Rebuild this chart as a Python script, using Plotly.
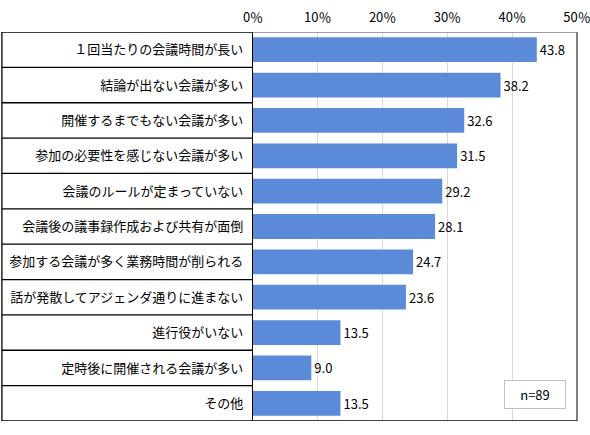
import plotly.graph_objects as go

# survey answers (%), top to bottom
categories = [
    "１回当たりの会議時間が長い",
    "結論が出ない会議が多い",
    "開催するまでもない会議が多い",
    "参加の必要性を感じない会議が多い",
    "会議のルールが定まっていない",
    "会議後の議事録作成および共有が面倒",
    "参加する会議が多く業務時間が削られる",
    "話が発散してアジェンダ通りに進まない",
    "進行役がいない",
    "定時後に開催される会議が多い",
    "その他",
]
values = [43.8, 38.2, 32.6, 31.5, 29.2, 28.1, 24.7, 23.6, 13.5, 9.0, 13.5]
x_ticks = [0, 10, 20, 30, 40, 50]
note = "n=89"

FONT = "Noto Sans CJK JP"
BAR_COLOR = "#5B8BD8"

fig = go.Figure()

fig.add_trace(go.Bar(
    y=categories,
    x=values,
    orientation="h",
    marker=dict(color=BAR_COLOR, line=dict(width=0)),
    width=0.7,
    text=[f"{v:.1f}" for v in values],
    textposition="outside",
    textfont=dict(family=FONT, size=13, color="#000000"),
    cliponaxis=False,
    hoverinfo="none",
))

# boxes around the category labels on the left
shapes = []
label_left = -0.775
n = len(categories)
for i in range(n + 1):
    shapes.append(dict(
        type="line", xref="paper", yref="y",
        x0=label_left, x1=0, y0=i - 0.5, y1=i - 0.5,
        line=dict(color="#000000", width=1.3),
    ))
shapes.append(dict(
    type="line", xref="paper", yref="y",
    x0=label_left, x1=label_left, y0=-0.5, y1=n - 0.5,
    line=dict(color="#000000", width=1.3),
))
# plot frame: gray top/right, black bottom
shapes.append(dict(
    type="line", xref="paper", yref="y",
    x0=0, x1=1, y0=-0.5, y1=-0.5,
    line=dict(color="#7f7f7f", width=1.3),
))
shapes.append(dict(
    type="line", xref="paper", yref="y",
    x0=1, x1=1, y0=-0.5, y1=n - 0.5,
    line=dict(color="#7f7f7f", width=2),
))
shapes.append(dict(
    type="line", xref="paper", yref="y",
    x0=0, x1=1, y0=n - 0.5, y1=n - 0.5,
    line=dict(color="#000000", width=1.3),
))

fig.update_layout(
    width=590,
    height=435,
    margin=dict(l=253, r=13, t=32, b=14),
    paper_bgcolor="white",
    plot_bgcolor="white",
    font=dict(family=FONT, size=13, color="#000000"),
    showlegend=False,
    shapes=shapes,
    xaxis=dict(
        side="top",
        range=[0, 50],
        tickvals=x_ticks,
        ticktext=[f"{t}％" for t in x_ticks],
        tickfont=dict(family=FONT, size=13, color="#000000"),
        ticklabelstandoff=6,
        ticklabeloverflow="allow",
        showgrid=True,
        gridcolor="#d9d9d9",
        gridwidth=1,
        zeroline=False,
        showline=False,
        ticks="",
        automargin=False,
        fixedrange=True,
    ),
    yaxis=dict(
        range=[n - 0.5, -0.5],
        tickfont=dict(family=FONT, size=13, color="#000000"),
        showline=True,
        linecolor="#000000",
        linewidth=1.3,
        ticks="",
        ticklabelstandoff=6,
        showgrid=False,
        automargin=False,
        fixedrange=True,
    ),
    annotations=[dict(
        text=note,
        xref="paper", yref="paper",
        x=0.965, y=0.03,
        xanchor="right", yanchor="bottom",
        showarrow=False,
        font=dict(family=FONT, size=13, color="#000000"),
        bordercolor="#bfbfbf",
        borderwidth=1,
        borderpad=4,
        width=52,
        bgcolor="white",
    )],
)

# drop the browser's default body margin so the figure sits at the page corner
fig.write_html(
    "out.html",
    config={"displayModeBar": False},
    post_script="document.body.style.margin = '0';",
)
